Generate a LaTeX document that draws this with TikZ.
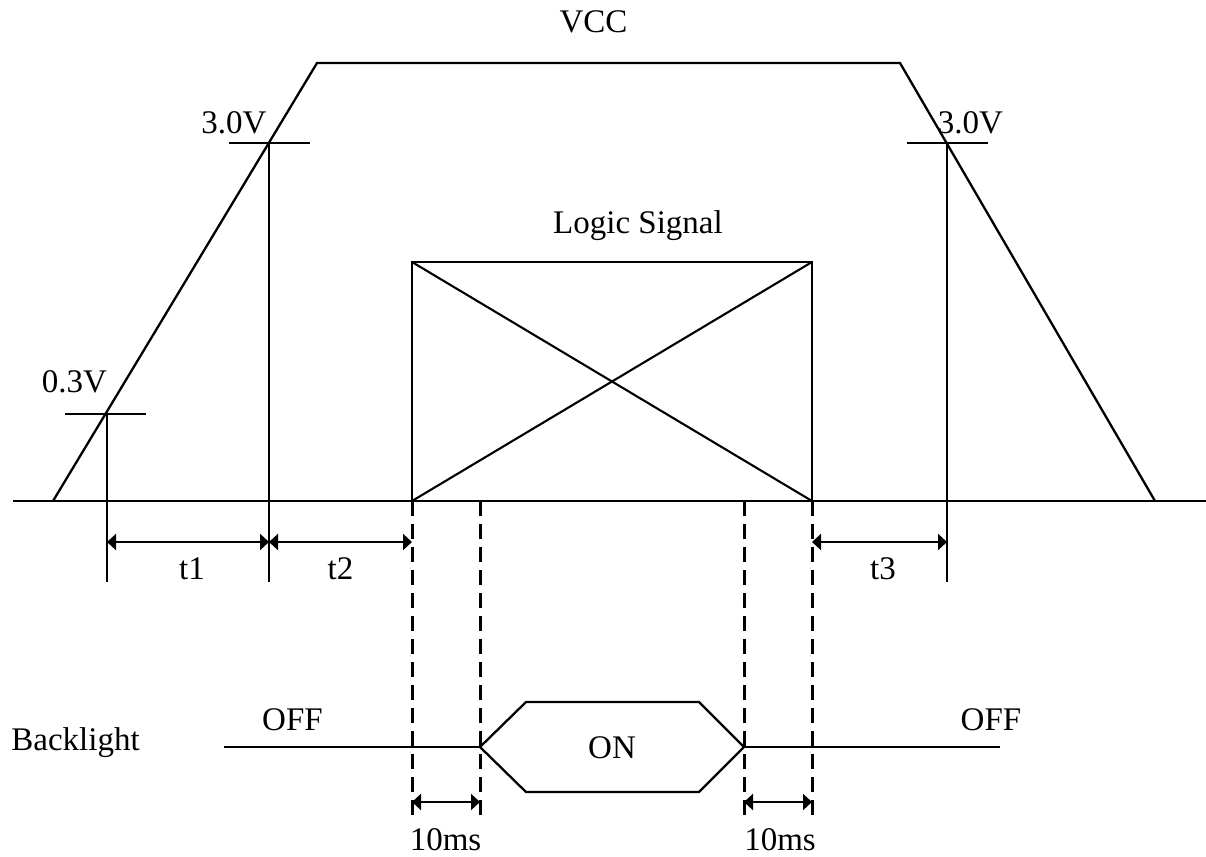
\documentclass[tikz,border=0pt]{standalone}
\usepackage{fontspec}
\setmainfont{Liberation Serif}
\usetikzlibrary{arrows.meta}
\begin{document}
\begin{tikzpicture}[x=1pt,y=-1pt,
  wire/.style={line width=2.3pt,line join=miter},
  thin wire/.style={line width=2.1pt},
  dashwire/.style={line width=3pt,dash pattern=on 15pt off 8pt},
  dim/.style={line width=2.2pt,{Triangle[length=9pt,width=16pt]}-{Triangle[length=9pt,width=16pt]}},
  lbl/.style={inner sep=0pt,anchor=base,font=\fontsize{33}{40}\selectfont}]
\useasboundingbox (0,0) rectangle (1206,856);
% key points
\coordinate (g0) at (13,501);
\coordinate (g1) at (1206,501);
\coordinate (vb1) at (53,501);
\coordinate (vt1) at (317,63);
\coordinate (vt2) at (900,63);
\coordinate (vb2) at (1155,501);
% VCC trapezoid
\draw[wire] (g0) -- (g1);
\draw[wire] (vb1) -- (vt1) -- (vt2) -- (vb2);
% threshold ticks
\coordinate (p03) at (107,414);
\coordinate (p30a) at (269,143);
\coordinate (p30b) at (947,143);
\draw[wire] (65,414) -- (146,414);
\draw[wire] (229,143) -- (310,143);
\draw[wire] (907,143) -- (988,143);
\coordinate (e03) at (107,582);
\coordinate (e30a) at (269,582);
\coordinate (e30b) at (947,582);
\draw[thin wire] (p03) -- (e03);
\draw[thin wire] (p30a) -- (e30a);
\draw[thin wire] (p30b) -- (e30b);
% Logic signal box
\coordinate (bl) at (412,501);
\coordinate (br) at (812,501);
\coordinate (tl) at (412,262);
\coordinate (tr) at (812,262);
\draw[wire] (bl) -- (tl) -- (tr) -- (br);
\draw[thin wire] (tl) -- (br);
\draw[thin wire] (bl) -- (tr);
% dashed guides
\coordinate (d1e) at (412,816);
\coordinate (d2s) at (480,501);
\coordinate (d2e) at (480,820);
\coordinate (d3s) at (744,501);
\coordinate (d3e) at (744,820);
\coordinate (d4e) at (812,820);
\draw[dashwire] (bl) -- (d1e);
\draw[dashwire] (d2s) -- (d2e);
\draw[dashwire] (d3s) -- (d3e);
\draw[dashwire] (br) -- (d4e);
% dimension arrows
\coordinate (a1) at (107,542);
\coordinate (a2) at (269,542);
\coordinate (a3) at (412,542);
\coordinate (a4) at (812,542);
\coordinate (a5) at (947,542);
\draw[dim] (a1) -- (a2);
\draw[dim] (a2) -- (a3);
\draw[dim] (a4) -- (a5);
\coordinate (m1) at (412,802);
\coordinate (m2) at (480,802);
\coordinate (m3) at (744,802);
\coordinate (m4) at (812,802);
\draw[dim] (m1) -- (m2);
\draw[dim] (m3) -- (m4);
% backlight
\coordinate (bs) at (224,747);
\coordinate (hl) at (480,747);
\coordinate (htl) at (526,702);
\coordinate (htr) at (699,702);
\coordinate (hr) at (744,747);
\coordinate (hbr) at (699,792);
\coordinate (hbl) at (526,792);
\coordinate (be) at (1000,747);
\draw[wire] (bs) -- (hl);
\draw[wire] (hl) -- (htl) -- (htr) -- (hr) -- (hbr) -- (hbl) -- cycle;
\draw[wire] (hr) -- (be);
% labels
\node[lbl] (vcc) at (593.5,33) {VCC};
\node[lbl] (logic) at (638,233) {Logic Signal};
\node[lbl] (l30a) at (234,133) {3.0V};
\node[lbl] (l30b) at (970.5,133) {3.0V};
\node[lbl] (l03) at (74.5,392) {0.3V};
\node[lbl] (t1) at (192,579) {t1};
\node[lbl] (t2) at (340.5,579) {t2};
\node[lbl] (t3) at (883,579) {t3};
\node[lbl] (ms1) at (445.5,850) {10ms};
\node[lbl] (ms2) at (780,850) {10ms};
\node[lbl] (bk) at (75.5,750) {Backlight};
\node[lbl] (off1) at (292.5,730) {OFF};
\node[lbl] (off2) at (991,730) {OFF};
\node[lbl] (on) at (612,758) {ON};
\end{tikzpicture}
\end{document}
